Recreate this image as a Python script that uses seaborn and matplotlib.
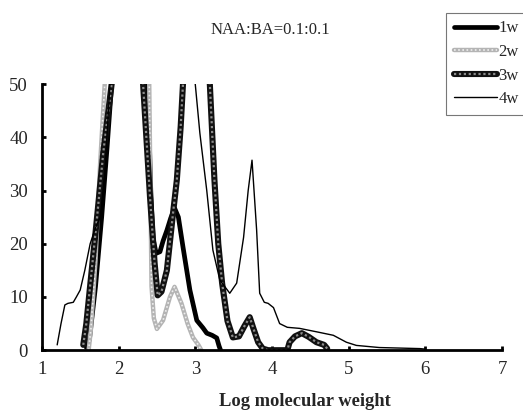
import matplotlib
matplotlib.use('Agg')
import matplotlib.pyplot as plt
import seaborn as sns

# values (y above 50 runs off the top of the plot)
x_1w = [1.58, 1.62, 1.70, 1.78, 1.85, 1.92, 2.00, 2.20, 2.33, 2.38, 2.42, 2.45, 2.49, 2.54, 2.58,
        2.63, 2.68, 2.73, 2.78, 2.84, 2.93, 3.02, 3.10, 3.15, 3.22, 3.28, 3.31, 3.33]
y_1w = [0.5, 2, 12, 25, 38, 52, 75, 110, 75, 50, 30, 21, 18.2, 18.5, 20.5,
        22.5, 24.8, 26.7, 25, 19.4, 11.3, 5.6, 4.2, 3.2, 2.8, 2.3, 0.8, 0]

x_2w = [1.61, 1.64, 1.70, 1.76, 1.82, 1.90, 2.10, 2.35, 2.40, 2.43, 2.46, 2.50, 2.58, 2.67,
        2.73, 2.82, 2.90, 2.97, 3.04, 3.08]
y_2w = [0, 4, 17, 35, 50, 80, 110, 70, 50, 12, 6, 4, 5.6, 10,
        11.9, 8.8, 5, 2.4, 1, 0]

x_3w = [1.54, 1.58, 1.65, 1.72, 1.80, 1.91, 2.00, 2.15, 2.28, 2.32, 2.41, 2.47, 2.51, 2.56, 2.63,
        2.71, 2.76, 2.81, 2.84, 2.95, 3.10, 3.19, 3.25, 3.30, 3.35, 3.42, 3.49, 3.57, 3.64,
        3.71, 3.76, 3.82, 3.88, 3.95, 4.20, 4.23, 4.30, 4.39, 4.48, 4.58, 4.68, 4.72]
y_3w = [1, 5, 15, 25, 37, 50, 70, 100, 65, 50, 28.8, 16.4, 10.3, 11, 15,
        25.7, 32, 42, 50, 90, 80, 50, 32, 20, 12.6, 5.5, 2.4, 2.6, 4.5,
        6.2, 4, 1.5, 0.3, 0, 0, 1.5, 2.6, 3.2, 2.5, 1.5, 1, 0.3]

x_4w = [1.20, 1.25, 1.30, 1.34, 1.41, 1.45, 1.50, 1.56, 1.63, 1.70, 1.76, 1.82, 1.88, 1.95, 2.50,
        2.95, 3.00, 3.06, 3.15, 3.23, 3.32, 3.45, 3.54, 3.63, 3.69, 3.74, 3.80, 3.84, 3.90, 3.95,
        4.02, 4.10, 4.20, 4.36, 4.60, 4.80, 4.97, 5.10, 5.40, 5.93, 6.00]
y_4w = [1, 5, 8.5, 8.8, 9, 10, 11.3, 15, 20, 23, 25, 33, 48, 70, 120,
        70, 50, 40.8, 30, 18.8, 13.2, 10.7, 12.6, 21.2, 30, 35.7, 22.6, 10.7, 9, 8.8,
        8, 5, 4.3, 4.1, 3.4, 2.8, 1.5, 0.9, 0.5, 0.3, 0.2]

labels = ['1w', '2w', '3w', '4w']

sns.set_style('ticks')
plt.rcParams['font.family'] = ['Liberation Serif', 'DejaVu Serif']

fig = plt.figure(figsize=(5.23, 4.12), dpi=100)
ax = fig.add_axes([0.080, 0.150, 0.880, 0.646])

kw = dict(sort=False, estimator=None, ax=ax)
sns.lineplot(x=x_1w, y=y_1w, color='black', linewidth=3.4, **kw)
h1 = ax.lines[-1]
# speckled lines: a base stroke with a dotted stroke on top
sns.lineplot(x=x_2w, y=y_2w, color='#b4b4b4', linewidth=3.2, **kw)
h2a = ax.lines[-1]
sns.lineplot(x=x_2w, y=y_2w, color='#eeeeee', linewidth=1.2, linestyle=(0, (1, 1.5)), **kw)
h2b = ax.lines[-1]
sns.lineplot(x=x_3w, y=y_3w, color='#111111', linewidth=4.4, **kw)
h3a = ax.lines[-1]
sns.lineplot(x=x_3w, y=y_3w, color='#8c8c8c', linewidth=1.6, linestyle=(0, (1, 1.2)), **kw)
h3b = ax.lines[-1]
sns.lineplot(x=x_4w, y=y_4w, color='black', linewidth=1.0, **kw)
h4 = ax.lines[-1]

ax.set_xlim(1, 7)
ax.set_ylim(0, 50)
ax.set_xticks(range(1, 8))
ax.set_yticks(range(0, 51, 10))
ax.tick_params(direction='in', length=3, width=2, labelsize=13.5, color='black')
ax.tick_params(axis='y', pad=10)
ax.tick_params(axis='x', pad=8)
sns.despine(ax=ax)
for s in ['left', 'bottom']:
    ax.spines[s].set_linewidth(2)
    ax.spines[s].set_color('black')
ax.set_xlabel('')
ax.set_ylabel('')

fig.text(270 / 523, 1 - 30 / 412, 'NAA:BA=0.1:0.1', ha='center', va='center', fontsize=12)
fig.text(305 / 523, 1 - 402 / 412, 'Log molecular weight', ha='center', va='center',
         fontsize=13.3, fontweight='bold')

leg = ax.legend([h1, (h2a, h2b), (h3a, h3b), h4], labels,
                loc='upper left', bbox_to_anchor=(446 / 523, 1 - 13 / 412),
                bbox_transform=fig.transFigure, fontsize=12, frameon=True, fancybox=False,
                handlelength=2.6, handletextpad=0.1, labelspacing=0.45, borderpad=0.45,
                borderaxespad=0)
leg.get_frame().set_edgecolor('#555555')
leg.get_frame().set_linewidth(0.8)

fig.savefig('out.png', dpi=100)
